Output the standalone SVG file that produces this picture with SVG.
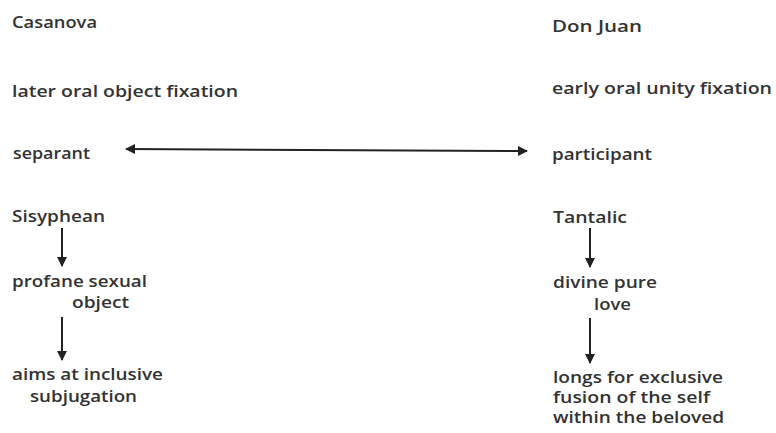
<svg xmlns="http://www.w3.org/2000/svg" width="776" height="433" viewBox="0 0 776 433">
  <style>
    .t { font-family: "Open Sans", "DejaVu Sans", sans-serif; font-size: 16px; font-weight: 600; fill: #333; }
    .c { stroke: #222; stroke-width: 2; fill: none; }
  </style>
  <defs>
    <marker id="head" viewBox="0 0 10 10" refX="9" refY="5" markerWidth="5" markerHeight="5" orient="auto-start-reverse" markerUnits="strokeWidth">
      <path d="M0,0 L10,5 L0,10 z" fill="#222"/>
    </marker>
  </defs>
  <rect width="776" height="433" fill="#fff"/>

  <!-- Casanova column -->
  <g id="casanova"><text class="t" x="12" y="28" textLength="85" lengthAdjust="spacingAndGlyphs">Casanova</text></g>
  <g id="later-oral"><text class="t" x="12" y="97" textLength="226" lengthAdjust="spacingAndGlyphs">later oral object fixation</text></g>
  <g id="separant"><text class="t" x="13" y="159" textLength="77" lengthAdjust="spacingAndGlyphs">separant</text></g>
  <g id="sisyphean"><text class="t" x="12" y="222" textLength="93" lengthAdjust="spacingAndGlyphs">Sisyphean</text></g>
  <g id="profane"><text class="t" x="12" y="287" textLength="135" lengthAdjust="spacingAndGlyphs">profane sexual</text><text class="t" x="72" y="308" textLength="57" lengthAdjust="spacingAndGlyphs">object</text></g>
  <g id="aims"><text class="t" x="12" y="380" textLength="151" lengthAdjust="spacingAndGlyphs">aims at inclusive</text><text class="t" x="30" y="402" textLength="107" lengthAdjust="spacingAndGlyphs">subjugation</text></g>

  <!-- Don Juan column -->
  <g id="don-juan"><text class="t" x="552" y="32" textLength="90" lengthAdjust="spacingAndGlyphs">Don Juan</text></g>
  <g id="early-oral"><text class="t" x="552" y="94" textLength="220" lengthAdjust="spacingAndGlyphs">early oral unity fixation</text></g>
  <g id="participant"><text class="t" x="552" y="160" textLength="100" lengthAdjust="spacingAndGlyphs">participant</text></g>
  <g id="tantalic"><text class="t" x="553" y="223" textLength="74" lengthAdjust="spacingAndGlyphs">Tantalic</text></g>
  <g id="divine"><text class="t" x="553" y="288" textLength="104" lengthAdjust="spacingAndGlyphs">divine pure</text><text class="t" x="594" y="310" textLength="37" lengthAdjust="spacingAndGlyphs">love</text></g>
  <g id="longs"><text class="t" x="553" y="383" textLength="170" lengthAdjust="spacingAndGlyphs">longs for exclusive</text><text class="t" x="553" y="403" textLength="157" lengthAdjust="spacingAndGlyphs">fusion of the self</text><text class="t" x="553" y="423" textLength="171" lengthAdjust="spacingAndGlyphs">within the beloved</text></g>

  <!-- connectors -->
  <g id="connectors">
    <line class="c" x1="126" y1="149" x2="527" y2="151" marker-start="url(#head)" marker-end="url(#head)"/>
    <line class="c" x1="62" y1="228" x2="62" y2="266" marker-end="url(#head)"/>
    <line class="c" x1="62" y1="317" x2="62" y2="360" marker-end="url(#head)"/>
    <line class="c" x1="590" y1="228" x2="590" y2="267" marker-end="url(#head)"/>
    <line class="c" x1="590" y1="318" x2="590" y2="363" marker-end="url(#head)"/>
  </g>
</svg>
